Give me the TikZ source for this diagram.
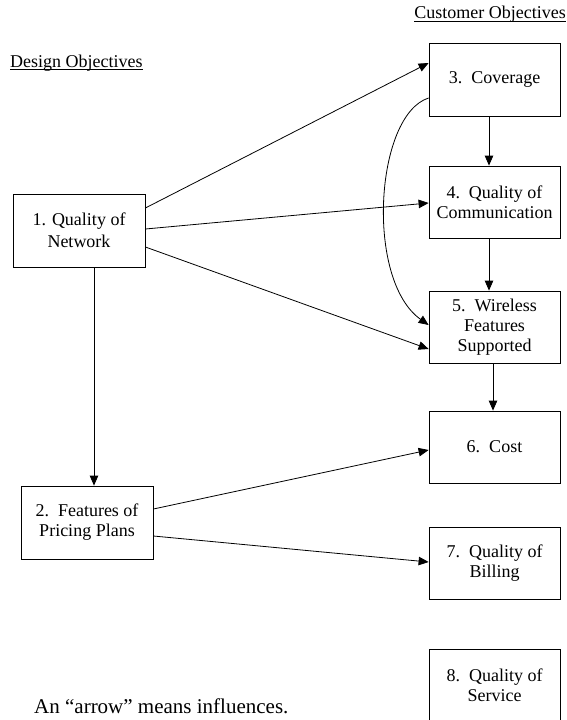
\documentclass[tikz,border=0pt]{standalone}
\usepackage{fontspec}
\setmainfont{Liberation Serif}
\usetikzlibrary{arrows.meta}
\begin{document}
\begin{tikzpicture}[x=1pt,y=-1pt,
  box/.style={draw, line width=0.8pt, rectangle, minimum width=131pt, minimum height=73pt,
    align=center, inner sep=2pt, font=\fontsize{18}{20}\selectfont},
  lbl/.style={inner sep=0pt, font=\fontsize{18}{20}\selectfont},
  arr/.style={line width=0.8pt, -{Triangle[length=10pt,width=8.5pt]}}]
\useasboundingbox (0,0) rectangle (567,720);
% text labels
\node[lbl, anchor=base west] (dobj) at (10,67) {Design Objectives};
\draw[line width=0.8pt] ([yshift=-2pt]dobj.base west) -- ([yshift=-2pt]dobj.base east);
\node[lbl, anchor=base east] (cobj) at (566,19) {Customer Objectives};
\draw[line width=0.8pt] ([yshift=-2pt]cobj.base west) -- ([yshift=-2pt]cobj.base east);
\node[lbl, anchor=base west, font=\fontsize{21}{24}\selectfont] (note) at (34,713) {An “arrow” means influences.};
% boxes
\node[box, minimum width=132pt, font=\fontsize{18}{22}\selectfont] (b1) at (79,230.5) {1. Quality of\\Network};
\node[box, minimum width=132pt] (b2) at (87,522.5) {2.~~Features of\\Pricing Plans};
\node[box] (b3) at (494.5,79.5) {3.~~Coverage};
\node[box, minimum height=72pt] (b4) at (494.5,202) {4.~~Quality of\\Communication};
\node[box, minimum height=72pt] (b5) at (494.5,327) {5.~~Wireless\\Features\\Supported};
\node[box, minimum height=72pt] (b6) at (494.5,447) {6.~~Cost};
\node[box, minimum height=72pt] (b7) at (494.5,563) {7.~~Quality of\\Billing};
\node[box] (b8) at (494.5,685.5) {8.~~Quality of\\Service};
% connectors
\draw[arr] ([shift={(0,-22.5)}]b1.east) -- ([shift={(0,-16.5)}]b3.west);
\draw[arr] ([shift={(0,-1.5)}]b1.east) -- ([shift={(0,1)}]b4.west);
\draw[arr] ([shift={(0,16.5)}]b1.east) -- ([shift={(0,22)}]b5.west);
\draw[arr] ([shift={(15,0)}]b1.south) -- ([shift={(7,0)}]b2.north);
\draw[arr] ([shift={(0,-13.5)}]b2.east) -- ([shift={(0,3)}]b6.west);
\draw[arr] ([shift={(0,13.5)}]b2.east) -- ([shift={(0,-1)}]b7.west);
\draw[arr] ([shift={(-5.5,0)}]b3.south) -- ([shift={(-5.5,0)}]b4.north);
\draw[arr] ([shift={(-5.5,0)}]b4.south) -- ([shift={(-5.5,0)}]b5.north);
\draw[arr] ([shift={(-1.5,0)}]b5.south) -- ([shift={(-1.5,0)}]b6.north);
\draw[arr] ([shift={(0,18.5)}]b3.west) .. controls (375,115) and (365,280) .. ([shift={(0,-2)}]b5.west);
\end{tikzpicture}
\end{document}
